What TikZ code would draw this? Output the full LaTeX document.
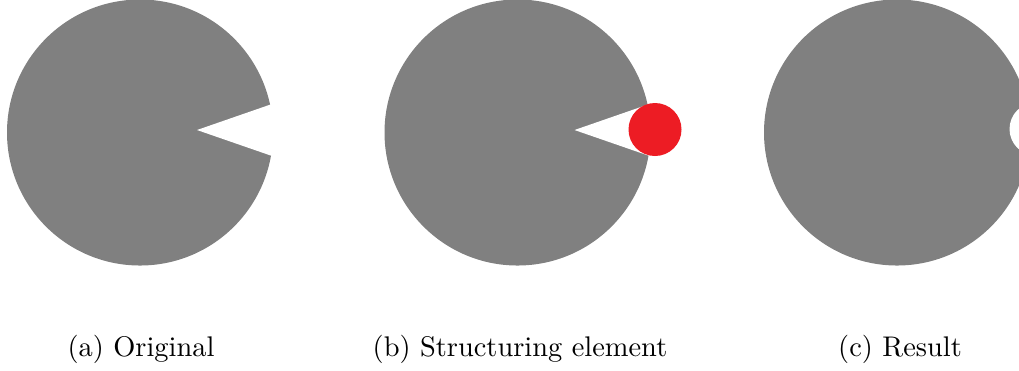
\documentclass[tikz,border=0pt]{standalone}
\definecolor{diskgray}{RGB}{128,128,128}
\definecolor{serred}{RGB}{237,28,36}
\tikzset{
    disk/.style={fill=diskgray},
    notch/.style={fill=white},
    caption/.style={anchor=base, inner sep=0pt}
}
\begin{document}
\begin{tikzpicture}[x=0.352pt, y=-0.352pt]
        \useasboundingbox (0,0) rectangle (1019,370);
        \clip (0,0) rectangle (1019,370);
        % (a) original shape
        \fill[disk] (140,132.5) circle (133);
        \fill[notch] (197,130) -- ++(19.1:120) -- ++(0,-78.6) -- cycle;
        % (b) with the structuring element
        \fill[disk] (517.5,132.5) circle (133);
        \fill[notch] (574.5,130) -- ++(19.1:120) -- ++(0,-78.6) -- cycle;
        \fill[serred] (655,129.5) circle (26.5);
        % (c) closing result
        \fill[disk] (897,132.5) circle (133);
        \fill[notch] (1036,129) circle (26.5);
        \node[caption] (capa) at (141,356) {(a) Original};
        \node[caption] (capb) at (520,356) {(b) Structuring element};
        \node[caption] (capc) at (900,356) {(c) Result};
    \end{tikzpicture}
\end{document}
